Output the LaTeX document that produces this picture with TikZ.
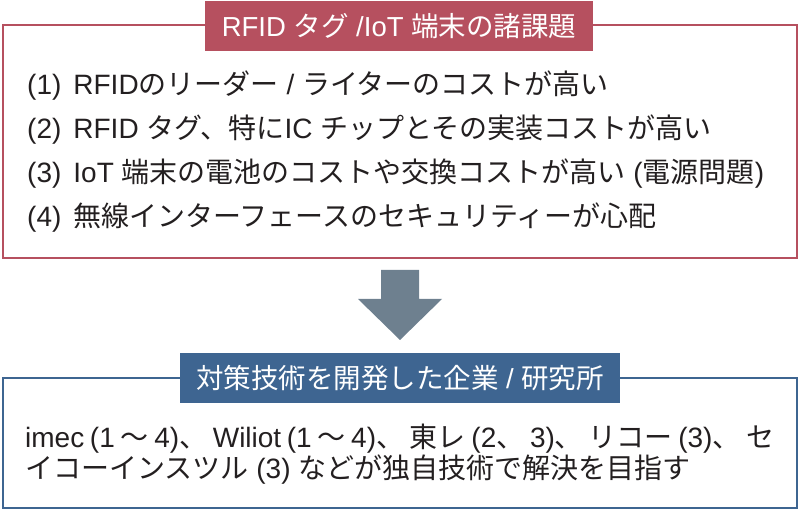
\documentclass[tikz,border=0pt]{standalone}
\usepackage{fontspec}
\setmainfont{Noto Sans CJK JP}
\newfontfamily\lat{Liberation Sans}
\newcommand\la[1]{{\lat #1}}
\definecolor{crim}{HTML}{B6505F}
\definecolor{navyb}{HTML}{3E6591}
\definecolor{arrowc}{HTML}{6E808F}
\definecolor{txt}{HTML}{231F20}
\tikzset{
  titlebox/.style={fill=#1, text=white, inner sep=0pt, minimum height=50pt,
    font=\fontsize{27.5}{30}\selectfont},
  itemtext/.style={anchor=west, inner sep=0pt, text=txt, font=\fontsize{28}{32}\selectfont},
  frame/.style={draw=#1, line width=1.6pt},
}
\begin{document}
\begin{tikzpicture}[x=1pt,y=-1pt]
\useasboundingbox (0,0) rectangle (800,510);
% top box
\draw[frame=crim] (3,25) rectangle (797,258);
\node[titlebox=crim, minimum width=388pt] (t1) at (399,26)
  {\la{RFID }タグ\la{ /IoT }端末の諸課題};
\node[itemtext] (i1) at (27,86)
  {\la{(1)}\hspace{12pt}\la{RFID}のリーダー\la{ / }ライターのコストが高い};
\node[itemtext] (i2) at (27,130)
  {\la{(2)}\hspace{12pt}\la{RFID }タグ、特に\la{IC }チップとその実装コストが高い};
\node[itemtext] (i3) at (27,174)
  {\la{(3)}\hspace{12pt}\la{IoT }端末の電池のコストや交換コストが高い\la{ (}電源問題\la{)}};
\node[itemtext] (i4) at (27,218)
  {\la{(4)}\hspace{12pt}無線インターフェースのセキュリティーが心配};
% arrow
\fill[arrowc] (381,270) -- (419,270) -- (419,299) -- (442,299) -- (400,340)
  -- (358,299) -- (381,299) -- cycle;
% bottom box
\draw[frame=navyb] (3,378) rectangle (797,508);
\node[titlebox=navyb, minimum width=440pt] (t2) at (400,378)
  {対策技術を開発した企業\la{ / }研究所};
\node[itemtext] (b1) at (25,439)
  {\makebox[749pt][s]{\la{imec (1 }～\la{ 4)}、\la{ Wiliot (1 }～\la{ 4)}、\la{ }東レ\la{ (2}、\la{ 3)}、\la{ }リコー\la{ (3)}、\la{ }セ}};
\node[itemtext] (b2) at (25,470)
  {イコーインスツル\la{ (3) }などが独自技術で解決を目指す};
\end{tikzpicture}
\end{document}
